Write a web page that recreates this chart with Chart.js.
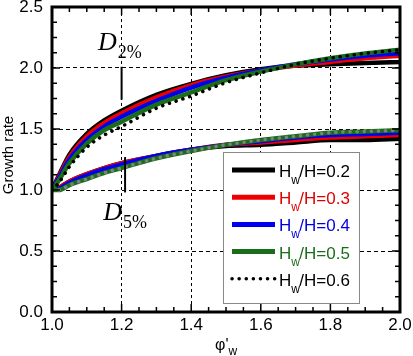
<!DOCTYPE html>
<html>
<head>
<meta charset="utf-8">
<script src="https://cdn.jsdelivr.net/npm/chart.js@4.4.0/dist/chart.umd.min.js"></script>
<style>
  html, body { margin: 0; padding: 0; background: #fff; }
  #wrap { width: 413px; height: 356px; position: relative; }
</style>
</head>
<body>
<div id="wrap"><canvas id="grafico"></canvas></div>
<script>
// eixo x (phi'_w)
var xPhi = [1.0, 1.02, 1.05, 1.1, 1.15, 1.2, 1.3, 1.4, 1.5, 1.6, 1.7, 1.8, 1.9, 2.0];

// curvas D2% (grupo de cima)
var d2_h02 = [1.0, 1.12, 1.29, 1.46, 1.57, 1.65, 1.78, 1.87, 1.94, 1.99, 2.02, 2.03, 2.04, 2.05];
var d2_h03 = [1.0, 1.11, 1.27, 1.44, 1.55, 1.63, 1.76, 1.86, 1.93, 1.98, 2.02, 2.05, 2.08, 2.10];
var d2_h04 = [1.0, 1.10, 1.25, 1.41, 1.52, 1.60, 1.73, 1.84, 1.92, 1.98, 2.03, 2.07, 2.10, 2.12];
var d2_h05 = [1.0, 1.08, 1.22, 1.38, 1.49, 1.56, 1.70, 1.80, 1.90, 1.97, 2.03, 2.08, 2.12, 2.15];
var d2_h06 = [1.0, 1.06, 1.19, 1.35, 1.45, 1.52, 1.67, 1.77, 1.88, 1.96, 2.03, 2.08, 2.12, 2.15];

// curvas D5% (grupo de baixo)
var d5_h02 = [1.0, 1.02, 1.07, 1.13, 1.18, 1.22, 1.28, 1.33, 1.36, 1.37, 1.39, 1.41, 1.41, 1.42];
var d5_h03 = [1.0, 1.02, 1.07, 1.13, 1.18, 1.22, 1.28, 1.33, 1.37, 1.39, 1.41, 1.43, 1.44, 1.45];
var d5_h04 = [1.0, 1.01, 1.06, 1.12, 1.17, 1.21, 1.28, 1.33, 1.37, 1.40, 1.43, 1.45, 1.46, 1.47];
var d5_h05 = [1.0, 1.00, 1.04, 1.09, 1.14, 1.18, 1.26, 1.32, 1.37, 1.41, 1.44, 1.47, 1.48, 1.49];
var d5_h06 = [1.0, 1.00, 1.04, 1.09, 1.14, 1.18, 1.26, 1.32, 1.37, 1.41, 1.44, 1.47, 1.48, 1.49];

// marcadores D2% e D5%
var marcaD2_x = [1.2, 1.2];
var marcaD2_y = [1.74, 2.01];
var marcaD5_x = [1.21, 1.21];
var marcaD5_y = [0.98, 1.27];
var rotuloD2 = { x: 1.132, y: 2.148, sub: '2%' };
var rotuloD5 = { x: 1.147, y: 0.754, sub: '5%' };

// legenda
var legendaValores = ['0.2', '0.3', '0.4', '0.5', '0.6'];
var cores = ['#000000', '#ee0000', '#0000ee', '#1a6e1a', '#000000'];
var coresTexto = ['#000000', '#e00000', '#0000e0', '#1a6e1a', '#000000'];

function pares(xs, ys) {
  var out = [];
  for (var i = 0; i < xs.length; i++) out.push({ x: xs[i], y: ys[i] });
  return out;
}

function serie(ys, cor, ordem, pontilhado) {
  var ds = {
    data: pares(xPhi, ys),
    borderColor: cor,
    borderWidth: pontilhado ? 3.5 : 4.5,
    pointRadius: 0,
    fill: false,
    cubicInterpolationMode: 'monotone',
    order: ordem
  };
  if (pontilhado) {
    ds.borderDash = [0.1, 7];
    ds.borderCapStyle = 'round';
  }
  return ds;
}

var datasets = [
  serie(d2_h02, cores[0], 5), serie(d2_h03, cores[1], 4), serie(d2_h04, cores[2], 3),
  serie(d2_h05, cores[3], 2), serie(d2_h06, '#000000', 1, true),
  serie(d5_h02, cores[0], 5), serie(d5_h03, cores[1], 4), serie(d5_h04, cores[2], 3),
  serie(d5_h05, cores[3], 2), serie(d5_h06, '#808080', 1, true),
  { data: pares(marcaD2_x, marcaD2_y), borderColor: '#000', borderWidth: 2, pointRadius: 0, order: 0 },
  { data: pares(marcaD5_x, marcaD5_y), borderColor: '#000', borderWidth: 2, pointRadius: 0, order: 0 }
];

var fonteSans = "'Liberation Sans', Arial, sans-serif";

var extras = {
  id: 'extras',
  afterDraw: function (chart) {
    var ctx = chart.ctx;
    var a = chart.chartArea;
    var sx = chart.scales.x, sy = chart.scales.y;
    ctx.save();

    // ticks internos (maiores e menores) nos 4 lados
    ctx.strokeStyle = '#000';
    ctx.lineWidth = 1.5;
    ctx.beginPath();
    for (var k = 0; k <= 20; k++) {
      var v = 1 + k * 0.05;
      var px = sx.getPixelForValue(v);
      var len = (k % 4 === 0) ? 8 : 5;
      ctx.moveTo(px, a.bottom); ctx.lineTo(px, a.bottom - len);
      ctx.moveTo(px, a.top); ctx.lineTo(px, a.top + len);
    }
    for (var j = 0; j <= 20; j++) {
      var vy = j * 0.125;
      var py = sy.getPixelForValue(vy);
      var leny = (j % 4 === 0) ? 8 : 5;
      ctx.moveTo(a.left, py); ctx.lineTo(a.left + leny, py);
      ctx.moveTo(a.right, py); ctx.lineTo(a.right - leny, py);
    }
    ctx.stroke();

    // moldura grossa
    ctx.lineWidth = 3;
    ctx.strokeRect(a.left, a.top, a.right - a.left, a.bottom - a.top);

    // rótulos D
    function rotuloD(r) {
      var x = sx.getPixelForValue(r.x), y = sy.getPixelForValue(r.y);
      ctx.fillStyle = '#000';
      ctx.textBaseline = 'alphabetic';
      ctx.textAlign = 'left';
      ctx.font = "italic 26px 'Liberation Serif', serif";
      ctx.fillText('D', x, y);
      var w = ctx.measureText('D').width;
      ctx.font = "18px 'Liberation Serif', serif";
      ctx.fillText(r.sub, x + w + 1, y + 8);
    }
    rotuloD(rotuloD2);
    rotuloD(rotuloD5);

    // legenda
    var lx = 223, ly = 152, lw = 136, lh = 151;
    ctx.fillStyle = '#fff';
    ctx.fillRect(lx, ly, lw, lh);
    ctx.strokeStyle = '#888';
    ctx.lineWidth = 1;
    ctx.strokeRect(lx + 0.5, ly + 0.5, lw, lh);
    for (var i = 0; i < legendaValores.length; i++) {
      var base = 177 + i * 27.2;
      var cy = base - 7;
      ctx.beginPath();
      ctx.strokeStyle = cores[i];
      if (i === 4) {
        ctx.setLineDash([0.1, 7]);
        ctx.lineCap = 'round';
        ctx.lineWidth = 3.5;
      } else {
        ctx.setLineDash([]);
        ctx.lineCap = 'butt';
        ctx.lineWidth = 5;
      }
      ctx.moveTo(232, cy); ctx.lineTo(275, cy);
      ctx.stroke();
      ctx.setLineDash([]);
      ctx.fillStyle = coresTexto[i];
      ctx.textAlign = 'left';
      ctx.font = '17px ' + fonteSans;
      ctx.fillText('H', 279, base);
      var wH = ctx.measureText('H').width;
      ctx.font = '12px ' + fonteSans;
      ctx.fillText('w', 279 + wH, base + 7);
      ctx.font = '17px ' + fonteSans;
      ctx.fillText('/H=' + legendaValores[i], 279 + wH + 8, base);
    }

    // títulos dos eixos
    ctx.fillStyle = '#000';
    ctx.save();
    ctx.translate(9, 155);
    ctx.rotate(-Math.PI / 2);
    ctx.textAlign = 'center';
    ctx.textBaseline = 'middle';
    ctx.font = '15px ' + fonteSans;
    ctx.fillText('Growth rate', 0, 0);
    ctx.restore();

    ctx.textAlign = 'left';
    ctx.textBaseline = 'alphabetic';
    ctx.font = '16px ' + fonteSans;
    ctx.fillText("\u03C6'", 215, 350);
    var wphi = ctx.measureText("\u03C6'").width;
    ctx.font = '12px ' + fonteSans;
    ctx.fillText('w', 215 + wphi, 355);

    ctx.restore();
  }
};

function semPadding(s) {
  s.paddingTop = 0; s.paddingBottom = 0; s.paddingLeft = 0; s.paddingRight = 0;
}

var config = {
  type: 'line',
  data: { datasets: datasets },
  options: {
    responsive: false,
    animation: false,
    layout: { padding: { top: 7, right: 13, left: 0, bottom: 0 } },
    plugins: { legend: { display: false }, tooltip: { enabled: false } },
    scales: {
      x: {
        type: 'linear', min: 1, max: 2,
        afterFit: function (s) { s.height = 44; semPadding(s); },
        ticks: { stepSize: 0.2, padding: 3, color: '#000', font: { family: fonteSans, size: 17 },
          callback: function (v) { return Number(v).toFixed(1); } },
        grid: { color: '#000', lineWidth: 1, drawTicks: false },
        border: { display: false, dash: [3, 3] }
      },
      y: {
        type: 'linear', min: 0, max: 2.5,
        afterFit: function (s) { s.width = 52; semPadding(s); },
        ticks: { stepSize: 0.5, padding: 9, color: '#000', font: { family: fonteSans, size: 17 },
          callback: function (v) { return Number(v).toFixed(1); } },
        grid: { color: '#000', lineWidth: 1, drawTicks: false },
        border: { display: false, dash: [4, 3] }
      }
    }
  },
  plugins: [extras]
};

var canvas = document.getElementById('grafico');
canvas.width = 413;
canvas.height = 356;
var grafico = new Chart(canvas, config);
</script>
</body>
</html>
